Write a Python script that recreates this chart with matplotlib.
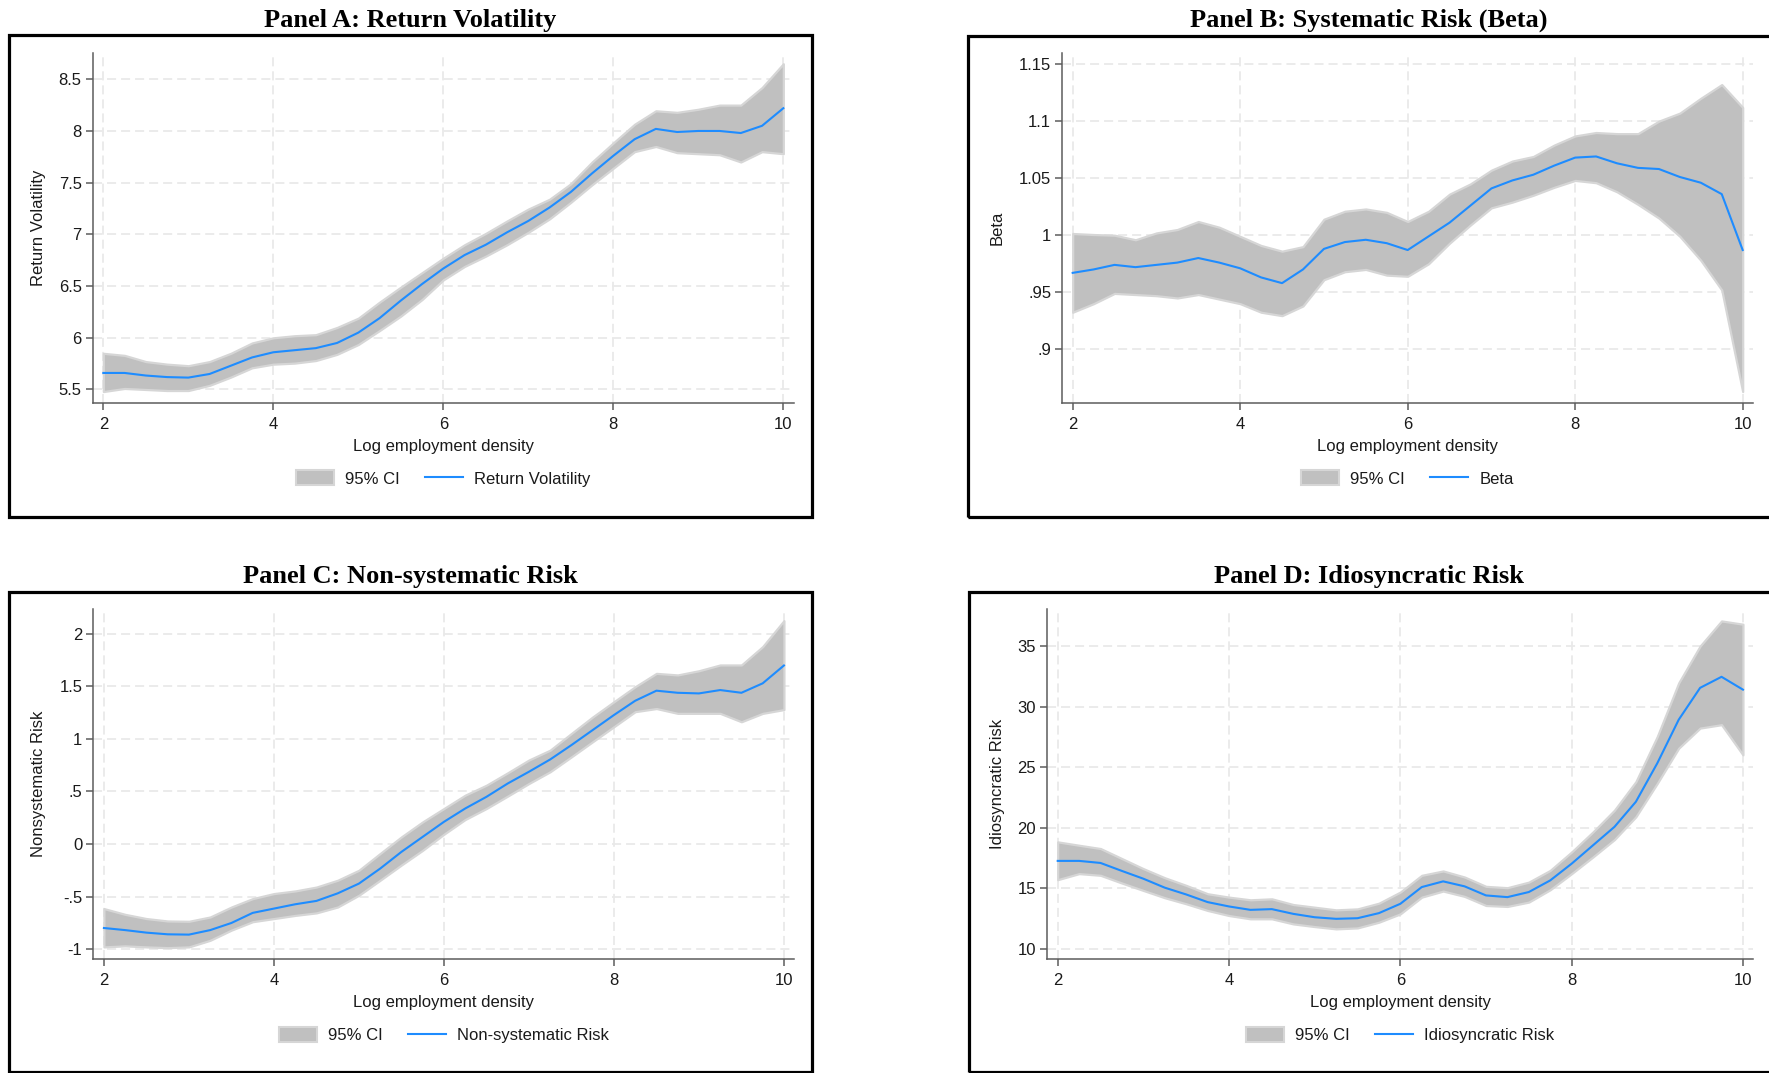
import matplotlib
matplotlib.use("Agg")
import matplotlib.pyplot as plt
import matplotlib.transforms as mtransforms
from matplotlib.patches import Rectangle, Patch
from matplotlib.lines import Line2D

plt.rcParams["font.family"] = ["Liberation Sans", "DejaVu Sans"]
plt.rcParams["lines.scale_dashes"] = False

# ---------------- data ----------------
x_grid = [2.0, 2.25, 2.5, 2.75, 3.0, 3.25, 3.5, 3.75, 4.0, 4.25, 4.5, 4.75,
          5.0, 5.25, 5.5, 5.75, 6.0, 6.25, 6.5, 6.75, 7.0, 7.25, 7.5, 7.75,
          8.0, 8.25, 8.5, 8.75, 9.0, 9.25, 9.5, 9.75, 10.0]

vol_mean = [5.66, 5.66, 5.635, 5.62, 5.615, 5.65, 5.73, 5.81, 5.86, 5.88, 5.90, 5.95,
            6.05, 6.19, 6.36, 6.52, 6.67, 6.80, 6.90, 7.02, 7.13, 7.26, 7.41, 7.59,
            7.76, 7.92, 8.02, 7.99, 8.00, 8.00, 7.98, 8.05, 8.22]
vol_upper = [5.85, 5.83, 5.77, 5.745, 5.73, 5.77, 5.85, 5.95, 6.00, 6.02, 6.03, 6.10,
             6.19, 6.345, 6.49, 6.63, 6.77, 6.90, 7.01, 7.13, 7.245, 7.34, 7.49, 7.70,
             7.885, 8.065, 8.195, 8.18, 8.21, 8.25, 8.25, 8.42, 8.65]
vol_lower = [5.48, 5.51, 5.50, 5.49, 5.49, 5.54, 5.62, 5.71, 5.745, 5.755, 5.78, 5.84,
             5.935, 6.07, 6.21, 6.37, 6.56, 6.69, 6.79, 6.90, 7.02, 7.15, 7.31, 7.48,
             7.64, 7.80, 7.85, 7.79, 7.78, 7.77, 7.70, 7.80, 7.78]

beta_mean = [0.967, 0.970, 0.974, 0.972, 0.974, 0.976, 0.980, 0.976, 0.971, 0.963, 0.958, 0.970,
             0.988, 0.994, 0.996, 0.993, 0.987, 0.999, 1.011, 1.026, 1.041, 1.048, 1.053, 1.061,
             1.068, 1.069, 1.063, 1.059, 1.058, 1.051, 1.046, 1.036, 0.987]
beta_upper = [1.0015, 1.0006, 1.000, 0.996, 1.002, 1.005, 1.012, 1.007, 0.999, 0.991, 0.986, 0.990,
              1.014, 1.021, 1.023, 1.020, 1.012, 1.021, 1.036, 1.045, 1.057, 1.065, 1.069, 1.079,
              1.087, 1.090, 1.089, 1.089, 1.100, 1.107, 1.120, 1.132, 1.112]
beta_lower = [0.9325, 0.940, 0.949, 0.948, 0.947, 0.945, 0.948, 0.944, 0.940, 0.9325, 0.9295, 0.938,
              0.961, 0.968, 0.970, 0.965, 0.964, 0.975, 0.993, 1.009, 1.024, 1.029, 1.035, 1.042,
              1.048, 1.046, 1.038, 1.027, 1.015, 0.999, 0.978, 0.952, 0.863]

nsr_mean = [-0.80, -0.82, -0.844, -0.86, -0.863, -0.82, -0.752, -0.656, -0.615, -0.574, -0.542, -0.47,
            -0.377, -0.234, -0.075, 0.068, 0.211, 0.338, 0.449, 0.576, 0.688, 0.805, 0.942, 1.085,
            1.228, 1.364, 1.46, 1.44, 1.434, 1.466, 1.44, 1.53, 1.70]
nsr_upper = [-0.615, -0.67, -0.71, -0.733, -0.736, -0.695, -0.60, -0.52, -0.472, -0.447, -0.41, -0.345,
             -0.25, -0.09, 0.068, 0.211, 0.338, 0.465, 0.56, 0.678, 0.80, 0.894, 1.053, 1.21,
             1.355, 1.498, 1.625, 1.61, 1.65, 1.705, 1.705, 1.88, 2.127]
nsr_lower = [-0.98, -0.97, -0.98, -0.987, -0.98, -0.917, -0.82, -0.74, -0.71, -0.68, -0.656, -0.60,
             -0.488, -0.345, -0.20, -0.06, 0.093, 0.233, 0.338, 0.456, 0.576, 0.688, 0.83, 0.974,
             1.117, 1.26, 1.29, 1.244, 1.244, 1.244, 1.164, 1.244, 1.28]

idio_mean = [17.27, 17.27, 17.1, 16.44, 15.8, 15.06, 14.5, 13.87, 13.51, 13.23, 13.29, 12.9,
             12.62, 12.49, 12.54, 12.96, 13.73, 15.11, 15.58, 15.17, 14.42, 14.28, 14.70, 15.66,
             17.04, 18.56, 20.08, 22.15, 25.33, 28.92, 31.55, 32.46, 31.4]
idio_upper = [18.84, 18.56, 18.29, 17.46, 16.63, 15.88, 15.25, 14.56, 14.28, 14.06, 14.14, 13.67,
              13.45, 13.23, 13.31, 13.78, 14.70, 16.08, 16.44, 15.94, 15.17, 15.06, 15.52, 16.49,
              18.01, 19.67, 21.46, 23.81, 27.54, 31.96, 35.0, 37.07, 36.8]
idio_lower = [15.72, 16.22, 16.08, 15.44, 14.83, 14.23, 13.73, 13.18, 12.76, 12.49, 12.49, 12.07,
              11.85, 11.66, 11.74, 12.21, 12.90, 14.28, 14.78, 14.34, 13.59, 13.51, 13.87, 14.89,
              16.22, 17.60, 19.03, 20.91, 23.67, 26.57, 28.23, 28.51, 26.02]

x_ticks = [2, 4, 6, 8, 10]
x_label = "Log employment density"
ci_label = "95% CI"

titles = ["Panel A: Return Volatility", "Panel B: Systematic Risk (Beta)",
          "Panel C: Non-systematic Risk", "Panel D: Idiosyncratic Risk"]
y_labels = ["Return Volatility", "Beta", "Nonsystematic Risk", "Idiosyncratic Risk"]
series_labels = ["Return Volatility", "Beta", "Non-systematic Risk", "Idiosyncratic Risk"]

vol_ticks = [5.5, 6, 6.5, 7, 7.5, 8, 8.5]
vol_ticklabels = ["5.5", "6", "6.5", "7", "7.5", "8", "8.5"]
beta_ticks = [0.9, 0.95, 1.0, 1.05, 1.1, 1.15]
beta_ticklabels = [".9", ".95", "1", "1.05", "1.1", "1.15"]
nsr_ticks = [-1, -0.5, 0, 0.5, 1, 1.5, 2]
nsr_ticklabels = ["-1", "-.5", "0", ".5", "1", "1.5", "2"]
idio_ticks = [10, 15, 20, 25, 30, 35]
idio_ticklabels = ["10", "15", "20", "25", "30", "35"]

# ---------------- layout (pixels) ----------------
W, H = 1769, 1073
fig = plt.figure(figsize=(W / 100, H / 100), dpi=100)
fig.patch.set_facecolor("white")


def fx(px):
    return px / W


def fy(py):
    return 1 - py / H


panels = [
    dict(mean=vol_mean, up=vol_upper, lo=vol_lower, yt=vol_ticks, ytl=vol_ticklabels,
         ylim=(5.3665, 8.751), ax=(92.7, 53.3, 793.7, 403.3), box=(9, 35, 812, 517),
         ylab_x=38.3, dy=0),
    dict(mean=beta_mean, up=beta_upper, lo=beta_lower, yt=beta_ticks, ytl=beta_ticklabels,
         ylim=(0.8527, 1.1594), ax=(1062.2, 53.3, 1752.9, 403.3), box=(968, 35.5, 1780, 517),
         ylab_x=997.3, dy=0),
    dict(mean=nsr_mean, up=nsr_upper, lo=nsr_lower, yt=nsr_ticks, ytl=nsr_ticklabels,
         ylim=(-1.098, 2.235), ax=(93.3, 609.3, 794.3, 959.3), box=(9.3, 591.7, 812, 1071.5),
         ylab_x=38.3, dy=556.5),
    dict(mean=idio_mean, up=idio_upper, lo=idio_lower, yt=idio_ticks, ytl=idio_ticklabels,
         ylim=(9.15, 38.03), ax=(1047.0, 609.3, 1753.4, 959.3), box=(969, 591.7, 1780, 1071.5),
         ylab_x=997.3, dy=556.5),
]

FILL = "#c0c0c0"
FILL_EDGE = "#d6d6d6"
BLUE = "#1e8cff"
AXC = "#5c5c5c"
GRIDC = "#e9e9e9"

for i, p in enumerate(panels):
    l, t, r, b = p["ax"]
    ax = fig.add_axes([fx(l), fy(b), (r - l) / W, (b - t) / H])
    ax.set_facecolor("white")
    ax.set_axisbelow(True)

    ax.fill_between(x_grid, p["lo"], p["up"], facecolor=FILL, edgecolor=FILL_EDGE,
                    linewidth=1.6, zorder=2)
    ax.plot(x_grid, p["mean"], color=BLUE, linewidth=1.5, zorder=3,
            solid_joinstyle="round")

    ax.set_xlim(1.875, 10.122)
    ax.set_ylim(*p["ylim"])
    ax.set_xticks(x_ticks)
    ax.set_xticklabels([str(v) for v in x_ticks])
    ax.set_yticks(p["yt"])
    ax.set_yticklabels(p["ytl"])

    for s in ["top", "right"]:
        ax.spines[s].set_visible(False)
    for s in ["left", "bottom"]:
        ax.spines[s].set_color(AXC)
        ax.spines[s].set_linewidth(1.1)

    ax.tick_params(axis="both", colors=AXC, length=4.8, width=1.1, labelsize=12,
                   labelcolor="#1a1a1a")
    ax.tick_params(axis="y", pad=3.1)
    ax.tick_params(axis="x", pad=5.3)

    ax.grid(True, color=GRIDC, linewidth=1.3, linestyle=(0, (6.5, 3.6)))

    # axis labels
    ax.set_xlabel(x_label, fontsize=12, color="#1a1a1a")
    ax.xaxis.set_label_coords(0.5, fy(451 + p["dy"]),
                              transform=mtransforms.blended_transform_factory(ax.transAxes, fig.transFigure))
    ax.xaxis.label.set_verticalalignment("baseline")

    ax.set_ylabel(y_labels[i], fontsize=12, color="#1a1a1a")
    ax.yaxis.set_label_coords(fx(p["ylab_x"]), 0.5,
                              transform=mtransforms.blended_transform_factory(fig.transFigure, ax.transAxes))
    ax.yaxis.label.set_verticalalignment("center")

    # legend
    handles = [Patch(facecolor=FILL, edgecolor=FILL_EDGE, linewidth=1.5),
               Line2D([], [], color=BLUE, linewidth=1.5)]
    leg_y = (b - (478.5 + p["dy"] - (b - 403.3 if p["dy"] == 0 else b - 959.3))) / (b - t)
    leg = ax.legend(handles, [ci_label, series_labels[i]], loc="center",
                    bbox_to_anchor=(0.5, fy(478.5 + p["dy"])),
                    bbox_transform=mtransforms.blended_transform_factory(ax.transAxes, fig.transFigure),
                    ncol=2, frameon=False, fontsize=12, handlelength=2.28, handleheight=1.0,
                    handletextpad=0.66, columnspacing=1.5, borderaxespad=0, borderpad=0)
    for txt in leg.get_texts():
        txt.set_color("#1a1a1a")

    # outer frame
    bl, bt, br, bb = p["box"]
    fig.patches.append(Rectangle((fx(bl), fy(bb)), (br - bl) / W, (bb - bt) / H,
                                 transform=fig.transFigure, fill=False,
                                 edgecolor="black", linewidth=2.3, zorder=10))

    # title
    fig.text(fx((bl + min(br, W)) / 2), fy(26.5 + p["dy"]), titles[i],
             ha="center", va="baseline", fontsize=19, fontweight="bold",
             family=["Liberation Serif", "DejaVu Serif"], color="black")

fig.savefig("out.png", dpi=100, facecolor="white")
